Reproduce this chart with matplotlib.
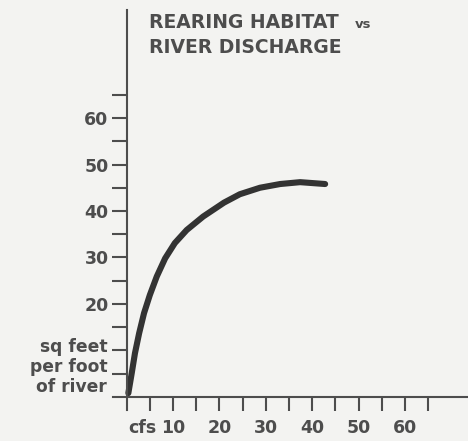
import matplotlib
matplotlib.use("Agg")
import matplotlib.pyplot as plt
import numpy as np

# Data
flow_cfs = [0.37, 1.1, 1.8, 2.7, 3.75, 5.0, 6.5, 8.3, 10.4, 12.95, 16.5,
            21.0, 24.4, 28.75, 33.1, 37.4, 42.8]
habitat = [0.8, 5.1, 9.4, 13.7, 18.0, 21.9, 25.9, 29.8, 33.1, 35.9, 38.8,
           41.8, 43.6, 45.0, 45.8, 46.2, 45.8]
x_ticks = [5, 10, 15, 20, 25, 30, 35, 40, 45, 50, 55, 60, 65]
x_tick_labels = ["", "10", "", "20", "", "30", "", "40", "", "50", "", "60", ""]
y_ticks = [5, 10, 15, 20, 25, 30, 35, 40, 45, 50, 55, 60, 65]
y_tick_labels = ["", "", "", "20", "", "30", "", "40", "", "50", "", "60", ""]
title_lines = ["REARING HABITAT", "RIVER DISCHARGE"]
title_suffix = "vs"
x_unit = "cfs"
y_unit = "sq feet\nper foot\nof river"

BG = "#f3f3f1"
INK = "#4d4d4d"
CURVE = "#333333"

plt.rcParams['font.family'] = ['DejaVu Sans']
plt.rcParams['font.weight'] = 'bold'

fig = plt.figure(figsize=(4.68, 4.41), dpi=100, facecolor=BG)
ax = fig.add_axes([0, 0, 1, 1], facecolor=BG)
ax.set_xlim(-27.3, 73.6)
ax.set_ylim(-9.5, 85.4)

ax.plot(flow_cfs, habitat, color=CURVE, lw=4.4, solid_capstyle='round',
        solid_joinstyle='round')

for s in ['top', 'right']:
    ax.spines[s].set_visible(False)
ax.spines['left'].set_position(('data', 0))
ax.spines['bottom'].set_position(('data', 0))
ax.spines['left'].set_bounds(-2.8, 83.2)
ax.spines['bottom'].set_bounds(-2.9, 73.6)
for s in ['left', 'bottom']:
    ax.spines[s].set_color(INK)
    ax.spines[s].set_linewidth(1.5)

ax.set_xticks(x_ticks)
ax.set_xticklabels(x_tick_labels)
ax.set_yticks(y_ticks)
ax.set_yticklabels(y_tick_labels)
ax.tick_params(axis='x', direction='out', length=10, width=1.5, color=INK,
               labelsize=12.5, labelcolor=INK, pad=6)
ax.tick_params(axis='y', direction='out', length=11, width=1.5, color=INK,
               labelsize=12.5, labelcolor=INK, pad=2)

ax.text(3.5, -6.6, x_unit, ha='center', va='center', fontsize=12.5, color=INK)

ax.text(-4.2, 6.4, y_unit, ha='right', va='center',
        fontsize=12.3, color=INK, linespacing=1.12)

ax.text(4.8, 79.4, title_lines[0], ha='left', va='baseline', fontsize=13.5, color=INK)
ax.text(49.2, 79.4, title_suffix, ha='left', va='baseline', fontsize=9.5, color=INK)
ax.text(4.8, 74.0, title_lines[1], ha='left', va='baseline', fontsize=13.5, color=INK)

fig.savefig("out.png", dpi=100, facecolor=BG)
